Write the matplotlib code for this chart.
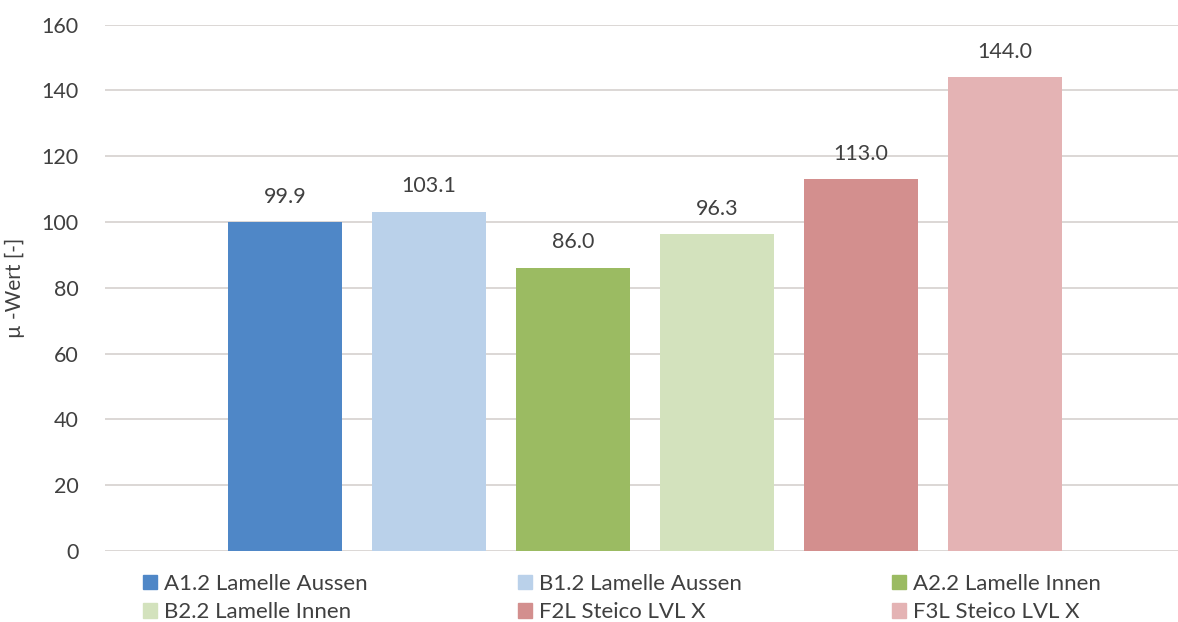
import matplotlib
matplotlib.use("Agg")
import matplotlib.pyplot as plt
from matplotlib.patches import Rectangle

plt.rcParams['font.family'] = ['Lato', 'DejaVu Sans']

# data
names = ["A1.2 Lamelle Aussen", "B1.2 Lamelle Aussen", "A2.2 Lamelle Innen",
         "B2.2 Lamelle Innen", "F2L Steico LVL X", "F3L Steico LVL X"]
mu_values = [99.9, 103.1, 86.0, 96.3, 113.0, 144.0]
colors = ["#4f87c7", "#bad1ea", "#9bbb62", "#d3e2bd", "#d38f8e", "#e4b3b4"]
yticks = [0, 20, 40, 60, 80, 100, 120, 140, 160]

txt = "#404040"

fig = plt.figure(figsize=(11.78, 6.22), dpi=100)
# axes placed in pixel fractions of the 1178x622 picture
ax = fig.add_axes([105 / 1178, 71 / 622, (1178 - 105) / 1178, 526.3 / 622])

x = list(range(len(mu_values)))
bars = ax.bar(x, mu_values, width=0.79, color=colors, zorder=3)

for xi, v in zip(x, mu_values):
    ax.annotate(f"{v:.1f}", (xi, v), xytext=(0, 18.5), textcoords="offset points",
                ha="center", va="center", fontsize=15.5, color=txt)

ax.set_ylim(0, 160)
ax.set_xlim(-1.25, 6.2)
ax.set_yticks(yticks)
ax.set_xticks([])
ax.grid(axis="y", color="#dcd7d5", lw=1.4, zorder=0)
for s in ax.spines.values():
    s.set_visible(False)
ax.tick_params(axis="y", length=0, pad=19, labelsize=15.5, labelcolor=txt)
ax.set_ylabel("µ -Wert [-]", fontsize=15, color=txt)
ax.yaxis.set_label_coords(-80 / 1073, 0.5)

# legend: 3 columns, 2 rows, filled column by column
handles = [Rectangle((0, 0), 1, 1, color=c) for c in colors]
order = [0, 3, 1, 4, 2, 5]
leg = fig.legend([handles[i] for i in order], [names[i] for i in order],
                 ncol=3, loc="center left", bbox_to_anchor=(143 / 1178, 24 / 622),
                 frameon=False, fontsize=16, handlelength=0.65, handleheight=0.65,
                 handletextpad=0.3, columnspacing=6.75, labelspacing=0.38,
                 borderaxespad=0, borderpad=0)
for t in leg.get_texts():
    t.set_color(txt)

fig.savefig("out.png", dpi=100)
